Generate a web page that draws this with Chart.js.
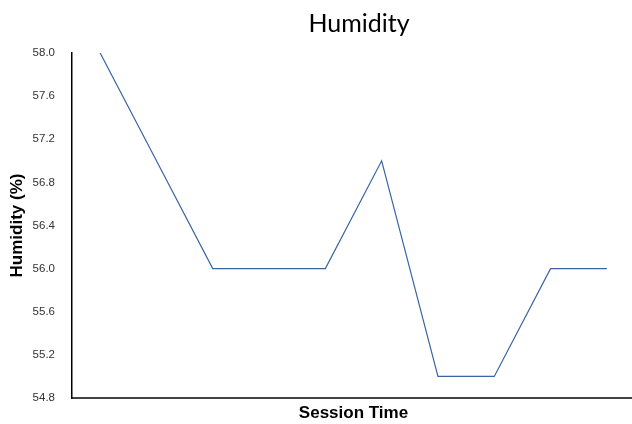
<!DOCTYPE html>
<html><head><meta charset="utf-8">
<script src="https://cdn.jsdelivr.net/npm/chart.js@4"></script>
<style>html,body{margin:0;padding:0;background:#fff;overflow:hidden}#wrap{width:711px;height:424px}</style>
</head><body><div id="wrap"><canvas id="c"></canvas></div>
<script>
const categories = ["1","2","3","4","5","6","7","8","9","10"];
const humidity = [58, 57, 56, 56, 56, 57, 55, 55, 56, 56];
const yTicks = [54.8, 55.2, 55.6, 56.0, 56.4, 56.8, 57.2, 57.6, 58.0];

new Chart(document.getElementById('c'), {
  type: 'line',
  data: { labels: categories, datasets: [{ label: 'Humidity', data: humidity, borderColor: '#3a65a0', borderWidth: 1.2, pointRadius: 0, tension: 0, fill: false, yAxisID: 'y' }] },
  options: {
    responsive: true, maintainAspectRatio: false, animation: false,
    layout: { padding: { left: 7, right: 0, top: 0, bottom: 0 } },
    plugins: {
      legend: { display: false },
      tooltip: { enabled: false },
      title: { display: true, text: 'Humidity', color: '#000', font: { family: 'Lato', size: 25, weight: 'normal' }, padding: { top: 9, bottom: 14 } }
    },
    scales: {
      x: {
        offset: true,
        grid: { display: false, drawTicks: false },
        border: { color: '#444', width: 2 },
        ticks: { display: false },
        title: { display: true, text: 'Session Time', color: '#000', font: { family: 'Liberation Sans', size: 17, weight: 'bold' }, padding: { top: 3, bottom: 0 } },
        afterFit: s => { s.height = 26; }
      },
      y: {
        min: 54.8, max: 58.0,
        afterBuildTicks: s => { s.ticks = yTicks.map(v => ({ value: v })); },
        grid: { display: false, drawTicks: false },
        border: { color: '#000', width: 1.5 },
        ticks: { color: '#333', font: { family: 'Liberation Sans', size: 11.5 }, padding: 17, callback: v => Number(v).toFixed(1) },
        title: { display: true, text: 'Humidity (%)', color: '#000', font: { family: 'Liberation Sans', size: 17, weight: 'bold' }, padding: { top: 0, bottom: 2 } },
        afterFit: s => { s.width = 65; }
      },
      spacer: {
        position: 'right', display: true,
        grid: { display: false, drawTicks: false },
        border: { display: false },
        ticks: { display: false },
        afterFit: s => { s.width = 76; }
      }
    }
  }
});
</script></body></html>
